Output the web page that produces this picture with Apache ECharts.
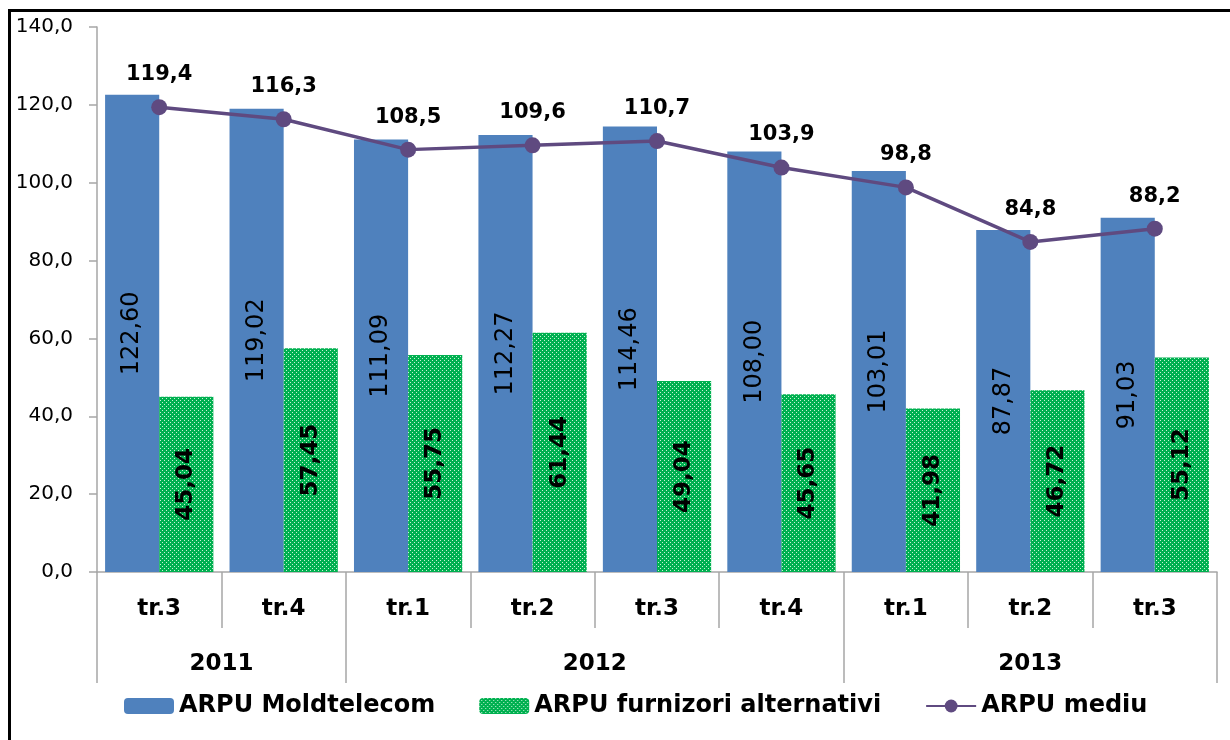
<!DOCTYPE html>
<html>
<head>
<meta charset="utf-8">
<script src="https://cdn.jsdelivr.net/npm/echarts@6/dist/echarts.min.js"></script>
<style>
  html, body { margin: 0; padding: 0; background: #fff; }
  #frame { position: absolute; left: 8px; top: 9px; width: 1240px; height: 760px;
           border-left: 3px solid #000; border-top: 3px solid #000; }
  #chart { position: absolute; left: 0; top: 0; width: 1230px; height: 740px; }
</style>
</head>
<body>
<div id="frame"></div>
<div id="chart"></div>
<script>
// categorii (trimestre) si ani
const quarters = ['tr.3', 'tr.4', 'tr.1', 'tr.2', 'tr.3', 'tr.4', 'tr.1', 'tr.2', 'tr.3'];
const years = ['2011', '2012', '2013'];
const yearBounds = [0, 2, 6, 9];      // limite grupuri de ani (in trimestre)
const yearCenters = [1, 4, 7.5];

// valori
const arpuMoldtelecom = [122.60, 119.02, 111.09, 112.27, 114.46, 108.00, 103.01, 87.87, 91.03];
const arpuAlternativi = [45.04, 57.45, 55.75, 61.44, 49.04, 45.65, 41.98, 46.72, 55.12];
const arpuMediu = [119.4, 116.3, 108.5, 109.6, 110.7, 103.9, 98.8, 84.8, 88.2];

const yTicks = [0, 20, 40, 60, 80, 100, 120, 140];

const FONT = 'DejaVu Sans';
const comma = (v, d) => v.toFixed(d).replace('.', ',');

// model punctat verde
const makePattern = () => {
  const c = document.createElement('canvas');
  c.width = 4; c.height = 4;
  const ctx = c.getContext('2d');
  ctx.fillStyle = '#00B050';
  ctx.fillRect(0, 0, 4, 4);
  ctx.fillStyle = '#c8f2d6';
  ctx.fillRect(0, 0, 1, 1);
  ctx.fillRect(2, 2, 1, 1);
  return c;
};

const chart = echarts.init(document.getElementById('chart'));

const option = {
  backgroundColor: 'transparent',
  animation: false,
  textStyle: { fontFamily: FONT },
  grid: { left: 97, right: 13, top: 27, bottom: 168, containLabel: false },
  legend: {
    left: 119,
    top: 689,
    itemGap: 44,
    itemWidth: 50,
    itemHeight: 16,
    textStyle: { fontFamily: FONT, fontSize: 24, fontWeight: 'bold', color: '#000' },
    data: ['ARPU Moldtelecom', 'ARPU furnizori alternativi', 'ARPU mediu']
  },
  xAxis: [
    {
      type: 'category',
      data: quarters,
      axisLine: { lineStyle: { color: '#a6a6a6', width: 1.5 } },
      axisTick: { show: true, interval: 0, length: 56, lineStyle: { color: '#a6a6a6', width: 1.5 } },
      axisLabel: { interval: 0, margin: 26, fontFamily: FONT, fontSize: 23, fontWeight: 'bold', color: '#000' }
    },
    {
      type: 'value',
      min: 0,
      max: 9,
      position: 'bottom',
      splitLine: { show: false },
      axisLine: { show: false },
      axisTick: { show: true, customValues: yearBounds, length: 111, lineStyle: { color: '#a6a6a6', width: 1.5 } },
      axisLabel: {
        customValues: yearCenters,
        margin: 81,
        fontFamily: FONT, fontSize: 23, fontWeight: 'bold', color: '#000',
        formatter: (v) => years[yearCenters.indexOf(v)]
      }
    }
  ],
  yAxis: {
    type: 'value',
    min: yTicks[0],
    max: yTicks[yTicks.length - 1],
    interval: 20,
    splitLine: { show: false },
    axisLine: { show: true, lineStyle: { color: '#a6a6a6', width: 1.5 } },
    axisTick: { show: true, length: 8, lineStyle: { color: '#a6a6a6', width: 1.5 } },
    axisLabel: { margin: 24, fontFamily: FONT, fontSize: 20, color: '#000', formatter: (v) => comma(v, 1) }
  },
  series: [
    {
      name: 'ARPU Moldtelecom',
      type: 'bar',
      data: arpuMoldtelecom,
      barGap: '0%',
      barCategoryGap: '13%',
      itemStyle: { color: '#4F81BD' },
      label: {
        show: true, position: 'inside', rotate: 90,
        fontFamily: FONT, fontSize: 24, color: '#000',
        formatter: (p) => comma(p.value, 2)
      }
    },
    {
      name: 'ARPU furnizori alternativi',
      type: 'bar',
      data: arpuAlternativi,
      itemStyle: { color: { image: makePattern(), repeat: 'repeat' } },
      label: {
        show: true, position: 'inside', rotate: 90,
        fontFamily: FONT, fontSize: 23, fontWeight: 'bold', color: '#000',
        formatter: (p) => comma(p.value, 2)
      }
    },
    {
      name: 'ARPU mediu',
      type: 'line',
      data: arpuMediu,
      symbol: 'circle',
      symbolSize: 16,
      lineStyle: { color: '#5F4A80', width: 3.5 },
      itemStyle: { color: '#5F4A80' },
      label: {
        show: true, position: 'top', distance: 14,
        fontFamily: FONT, fontSize: 21, fontWeight: 'bold', color: '#000',
        formatter: (p) => comma(p.value, 1)
      }
    }
  ]
};

chart.setOption(option);
</script>
</body>
</html>
